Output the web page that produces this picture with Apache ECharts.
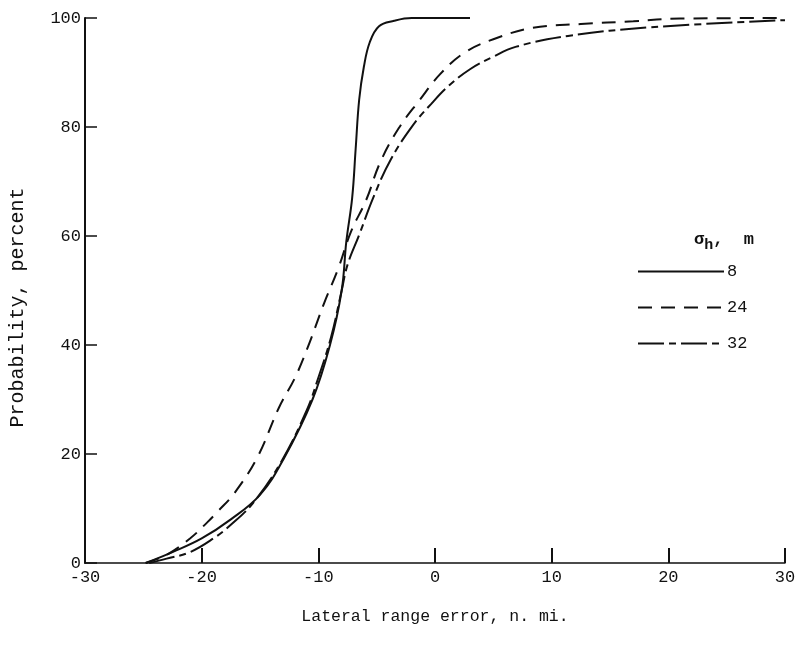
<!DOCTYPE html>
<html>
<head>
<meta charset="utf-8">
<script src="https://cdn.jsdelivr.net/npm/echarts@6/dist/echarts.min.js"></script>
<style>html,body{margin:0;padding:0;background:#fff}#c{width:802px;height:654px}</style>
</head>
<body>
<div id="c"></div>
<script>
// Lateral range error (n. mi.) vs probability (percent)
const sigma8X  = [-24.8, -22.5, -20, -17.5, -15, -13, -10.5, -9, -8, -7.6, -7.1, -6.8, -6.5, -6.1, -5.6, -4.8, -3.5, -2, 3];
const sigma8Y  = [0, 2, 4.5, 8, 12.5, 19, 30, 40, 50, 59, 67, 76, 85, 91, 95.5, 98.5, 99.5, 100, 100];
const sigma24X = [-24.8, -23, -21, -19.5, -18.6, -17.2, -15.2, -13.4, -12, -10.9, -9.5, -8.3, -7.2, -5.9, -4.7, -3.1, -1.3, 0.4, 2.5, 5, 8.4, 12.5, 17, 21, 30];
const sigma24Y = [0, 1.5, 4.5, 7.5, 9.5, 12.8, 19.5, 28.4, 34, 39.6, 47.7, 54, 60.8, 66.6, 73.5, 79.8, 85, 89.6, 93.6, 96.1, 98.2, 98.9, 99.4, 99.9, 100];
const sigma32X = [-24.5, -23, -21, -19, -17.5, -15.6, -13.2, -11, -10, -8.9, -8, -7.5, -6.5, -5.3, -3.8, -1.9, -0.3, 1.2, 3, 4.9, 6.9, 11.4, 18.5, 30];
const sigma32Y = [0, 0.8, 2, 4.5, 7, 11, 18.5, 28, 34, 41.5, 50, 54.7, 60.2, 67, 74, 80.3, 84.3, 87.6, 90.6, 92.8, 94.7, 96.7, 98.3, 99.6];
const seriesNames = ['8', '24', '32'];
const xTicks = [-30, -20, -10, 0, 10, 20, 30];
const yTicks = [0, 20, 40, 60, 80, 100];

const zip = (xs, ys) => xs.map((x, i) => [x, ys[i]]);
const FONT = '"Liberation Mono", "DejaVu Sans Mono", monospace';
const chart = echarts.init(document.getElementById('c'), null, {renderer: 'canvas'});
const lineBase = {type: 'line', showSymbol: false, symbol: 'none', smooth: 0.4, z: 3};
chart.setOption({
  animation: false,
  backgroundColor: '#ffffff',
  grid: {left: 84, right: 17, top: 18, bottom: 91},
  title: {
    text: '{a|σ}{b|h}{a|,  m}',
    left: 689, top: 221,
    textStyle: {rich: {
      a: {fontFamily: FONT, fontSize: 17, color: '#111'},
      b: {fontFamily: FONT, fontSize: 15, color: '#111', verticalAlign: 'bottom', padding: [12, 0, 0, 0]}
    }}
  },
  legend: {
    orient: 'vertical', left: 632, top: 258,
    itemWidth: 86, itemHeight: 14, itemGap: 19,
    itemStyle: {opacity: 0},
    data: seriesNames,
    textStyle: {fontFamily: FONT, fontSize: 17, color: '#111', padding: [0, 0, 0, -2]}
  },
  xAxis: {
    type: 'value', min: xTicks[0], max: xTicks[xTicks.length - 1], interval: 10,
    name: 'Lateral range error, n. mi.', nameLocation: 'middle', nameGap: 45,
    nameTextStyle: {fontFamily: FONT, fontSize: 16.5, color: '#111'},
    axisLine: {show: true, onZero: false, lineStyle: {color: '#111', width: 1.5}},
    axisTick: {show: true, inside: true, length: 15, lineStyle: {color: '#111', width: 2}},
    axisLabel: {fontFamily: FONT, fontSize: 17, color: '#111', margin: 6},
    splitLine: {show: false}
  },
  yAxis: {
    type: 'value', min: yTicks[0], max: yTicks[yTicks.length - 1], interval: 20,
    name: 'Probability, percent', nameLocation: 'middle', nameGap: 57,
    nameTextStyle: {fontFamily: FONT, fontSize: 20, color: '#111', padding: [0, 34, 0, 0]},
    axisLine: {show: true, onZero: false, lineStyle: {color: '#111', width: 2}},
    axisTick: {show: true, inside: true, length: 12, lineStyle: {color: '#111', width: 1.5}},
    axisLabel: {fontFamily: FONT, fontSize: 17, color: '#111', margin: 4},
    splitLine: {show: false}
  },
  series: [
    Object.assign({}, lineBase, {name: seriesNames[0], data: zip(sigma8X, sigma8Y),
      lineStyle: {color: '#111', width: 2, type: 'solid'}, itemStyle: {color: '#111'}}),
    Object.assign({}, lineBase, {name: seriesNames[1], data: zip(sigma24X, sigma24Y),
      lineStyle: {color: '#111', width: 2, type: [14, 9]}, itemStyle: {color: '#111'}}),
    Object.assign({}, lineBase, {name: seriesNames[2], data: zip(sigma32X, sigma32Y),
      lineStyle: {color: '#111', width: 2, type: [26, 5, 7, 5]}, itemStyle: {color: '#111'}})
  ]
});
</script>
</body>
</html>
